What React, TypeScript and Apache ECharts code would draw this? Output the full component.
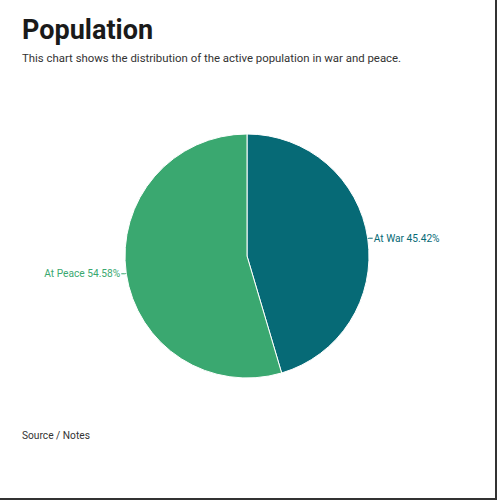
import React, { useEffect, useRef } from "react";
import * as echarts from "echarts";

const categories = ["At War", "At Peace"];
const values = [45.42, 54.58];
const colors = ["#066a76", "#3aa870"];

export default function App() {
  const ref = useRef<HTMLDivElement>(null);
  useEffect(() => {
    if (!ref.current) return;
    const chart = echarts.init(ref.current, undefined, { renderer: "svg" });
    chart.setOption({
      animation: false,
      title: [
        {
          text: "Population",
          left: 22,
          top: 16,
          padding: 0,
          textStyle: { fontFamily: "Roboto", fontWeight: "bold", fontSize: 27, color: "#1a1a1a" },
        },
        {
          text: "This chart shows the distribution of the active population in war and peace.",
          left: 22,
          top: 52,
          padding: 0,
          textStyle: { fontFamily: "Roboto", fontWeight: "normal", fontSize: 11.4, color: "#333" },
        },
        {
          text: "Source / Notes",
          left: 22,
          top: 430,
          padding: 0,
          textStyle: { fontFamily: "Roboto", fontWeight: "normal", fontSize: 10.2, color: "#333" },
        },
      ],
      series: [
        {
          type: "pie",
          center: [247, 256],
          radius: [0, 122],
          startAngle: 90,
          clockwise: true,
          data: categories.map((c, i) => ({
            name: c,
            value: values[i],
            itemStyle: { color: colors[i] },
            label: { color: colors[i] },
            labelLine: { lineStyle: { color: colors[i] } },
          })),
          itemStyle: { borderColor: "#fff", borderWidth: 1 },
          label: {
            show: true,
            fontFamily: "Roboto",
            fontSize: 10.2,
            distanceToLabelLine: 1,
            formatter: (p: any) => `${p.name} ${p.value.toFixed(2)}%`,
          },
          labelLine: { show: true, length: 2, length2: 3, lineStyle: { width: 1 } },
        },
      ],
    });
    return () => chart.dispose();
  }, []);
  return (
    <div
      style={{
        position: "fixed",
        left: 0,
        top: 0,
        width: 497,
        height: 500,
        boxSizing: "border-box",
        borderRight: "2px solid #333",
        borderBottom: "2px solid #333",
        background: "#fff",
      }}
    >
      <div ref={ref} style={{ width: 495, height: 498 }} />
    </div>
  );
}
